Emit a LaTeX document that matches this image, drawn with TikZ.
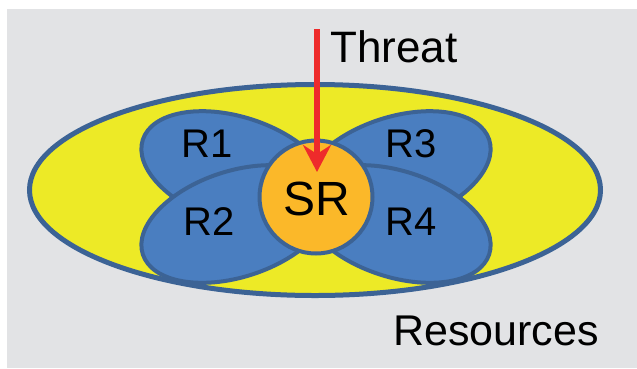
\documentclass[tikz,border=0pt]{standalone}
\usepackage{fontspec}
\setmainfont{Liberation Sans}
\usetikzlibrary{shapes.geometric,arrows.meta}
\definecolor{bggray}{HTML}{E2E3E5}
\definecolor{yellowf}{HTML}{EDEA26}
\definecolor{bluef}{HTML}{4A7EC0}
\definecolor{borderb}{HTML}{3C6395}
\definecolor{orangef}{HTML}{FBB829}
\definecolor{arrowred}{HTML}{EE2B2B}
\tikzset{
  petal/.style={ellipse, draw=borderb, fill=bluef, line width=4pt, inner sep=0pt,
    minimum width=196pt, minimum height=106pt},
  lbl/.style={anchor=base, inner sep=0pt, font=\fontsize{40}{48}\selectfont},
  biglbl/.style={anchor=base, inner sep=0pt, font=\fontsize{44}{52}\selectfont},
}
\begin{document}
\begin{tikzpicture}[x=1pt,y=-1pt]
\useasboundingbox (0,0) rectangle (637,368);
\fill[white] (0,0) rectangle (637,368);
\fill[bggray] (7,9) rectangle (637,368);
\node[ellipse, draw=borderb, fill=yellowf, line width=5pt, inner sep=0pt,
  minimum width=571pt, minimum height=211pt] (res) at (315,190) {};
\node[petal, rotate=-18] (p1) at (236,170) {};
\node[petal, rotate=18] (p3) at (396,170) {};
\node[petal, rotate=18] (p2) at (236,224) {};
\node[petal, rotate=-18] (p4) at (396,224) {};
\node[circle, draw=borderb, fill=orangef, line width=4pt, inner sep=0pt,
  minimum size=113pt] (sr) at (316,197) {};
\node[lbl] (r1) at (207.5,157) {R1};
\node[lbl] (r2) at (209,235) {R2};
\node[lbl] (r3) at (411,157) {R3};
\node[lbl] (r4) at (411,235) {R4};
\node[anchor=base, inner sep=0pt, font=\fontsize{48}{56}\selectfont] (srl) at (316.5,215) {SR};
\node[biglbl] (threat) at (394,62) {Threat};
\node[anchor=base, inner sep=0pt, font=\fontsize{43}{52}\selectfont] (resl) at (496,345) {Resources};
\coordinate (src) at (317,29);
\coordinate (tip) at (317,172);
\draw[arrowred, line width=5.5pt, -{Stealth[length=27pt,width=28pt,inset=9pt]}] (src) -- (tip);
\end{tikzpicture}
\end{document}
